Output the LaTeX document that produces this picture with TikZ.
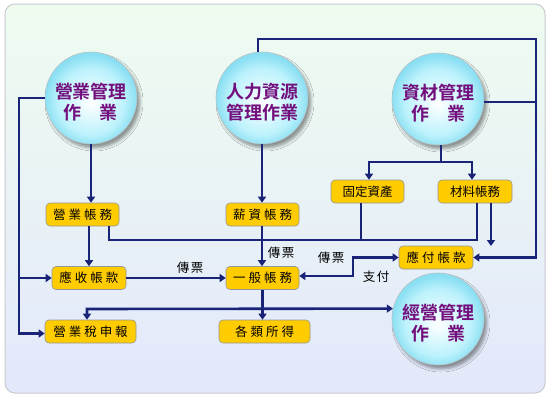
\documentclass[tikz,border=0pt]{standalone}
\usepackage{fontspec}
\newfontfamily\cjk{Noto Sans CJK TC}[BoldFont={Noto Sans CJK TC Bold}]
\usetikzlibrary{arrows.meta,shadows.blur}
\definecolor{navy}{RGB}{25,35,120}
\definecolor{boxfill}{RGB}{255,204,0}
\definecolor{boxline}{RGB}{150,150,150}
\definecolor{purp}{RGB}{115,15,125}
\definecolor{cyanM}{RGB}{188,242,252}
\definecolor{cyanE}{RGB}{138,223,243}
\definecolor{bgtop}{RGB}{238,252,240}
\definecolor{bgbot}{RGB}{227,232,251}
\definecolor{panelline}{RGB}{200,202,208}
\definecolor{circline}{RGB}{180,192,196}
\definecolor{shadowc}{RGB}{40,90,100}
\pgfdeclareradialshading{myball}{\pgfpoint{0bp}{-3bp}}{%
  color(0bp)=(white); color(5bp)=(white!70!cyanM); color(18bp)=(cyanM);
  color(25bp)=(cyanE); color(50bp)=(cyanE)}
\newcommand\lsp{\hspace{3pt}}
\newcommand\ssp{\hspace{1.5pt}}
\begin{document}
\begin{tikzpicture}[x=1pt,y=-1pt,
  line/.style={draw=navy, line width=2.6pt},
  arr/.style={line, -{Triangle[length=6pt,width=8pt]}},
  both/.style={line, {Triangle[length=6pt,width=8pt]}-{Triangle[length=6pt,width=8pt]}},
  circ/.style={circle, minimum size=92pt, inner sep=0pt, draw=circline, line width=0.6pt,
    shading=myball,
    blur shadow={shadow xshift=3pt, shadow yshift=-4pt, shadow blur radius=3pt,
      shadow opacity=40, shadow blur extra rounding=0pt}},
  ctext/.style={font=\cjk\bfseries\fontsize{18}{21}\selectfont, text=purp, align=center, inner sep=0pt},
  box/.style={draw=boxline, line width=0.6pt, fill=boxfill, rounded corners=4pt,
    minimum height=23pt, inner sep=0pt, font=\cjk\fontsize{12.5}{14}\selectfont},
  lab/.style={font=\cjk\fontsize{12.5}{14}\selectfont, inner sep=0pt}]
\useasboundingbox (0,0) rectangle (550,400);
\fill[white] (0,0) rectangle (550,400);
\shade[top color=bgtop, bottom color=bgbot, draw=panelline, line width=1pt, rounded corners=10pt]
  (5,4) rectangle (545,393);

% circles
\node[circ] (c1) at (91,98) {};
\node[ctext] (t1) at ([yshift=-4pt]c1.center) {營業管理\\作　業};
\node[circ] (c2) at (262,98) {};
\node[ctext] (t2) at ([yshift=-4pt]c2.center) {人力資源\\管理作業};
\node[circ] (c3) at (438,99) {};
\node[ctext] (t3) at ([yshift=-4pt]c3.center) {資材管理\\作　業};
\node[circ] (c4) at (438,319) {};
\node[ctext] (t4) at ([yshift=-4pt]c4.center) {經營管理\\作　業};

% boxes
\node[box, minimum width=73pt] (yw) at (82.5,214.5) {營\lsp 業\lsp 帳\lsp 務};
\node[box, minimum width=73pt] (xz) at (262.5,214.5) {薪\lsp 資\lsp 帳\lsp 務};
\node[box, minimum width=74pt] (ys) at (89,278) {應\lsp 收\lsp 帳\lsp 款};
\node[box, minimum width=73pt] (yb) at (262.5,278) {一\lsp 般\lsp 帳\lsp 務};
\node[box, minimum width=91pt] (ts) at (90.5,331.5) {營\lsp 業\lsp 稅\lsp 申\lsp 報};
\node[box, minimum width=91pt] (gl) at (264.5,331.5) {各\lsp 類\lsp 所\lsp 得};
\node[box, minimum width=73pt] (gd) at (367.5,191.5) {固定資產};
\node[box, minimum width=74pt] (cl) at (475,191.5) {材料帳務};
\node[box, minimum width=74pt] (yf) at (436,257.5) {應\lsp 付\lsp 帳\lsp 款};

% helper coordinates
\coordinate (L) at (19,98);
\coordinate (bus) at (109,240);
\coordinate (busE) at (477,240);
\coordinate (TR) at (536,39);
\coordinate (H) at (87,309);
\coordinate (S) at (353,257.5);
\coordinate (sp) at (441,162);
\coordinate (e1) at (491,246);

% connectors
\draw[arr] (c1.west) -- (L) |- ([yshift=-2pt]ts.west);
\draw[arr] (L |- ys.west) -- (ys.west);
\draw[arr] (c1.south) -- (c1.south |- yw.north);
\draw[arr] (yw.south -| ys.north) -- (ys.north);
\draw[line] (yw.south -| bus) -- (bus) -- (busE) -- (cl.south -| busE);
\draw[line] ([xshift=-6.5pt]gd.south) -- ([xshift=-6.5pt]gd.south |- bus);
\draw[arr] (c2.south) -- (c2.south |- xz.north);
\draw[arr] (xz.south -| c2) -- (c2 |- yb.north);
\node[lab] (p1) at (281,253) {傳\ssp 票};
\draw[arr] ([xshift=-4pt]c2.north) |- (TR) |- (yf.east);
\draw[line] ([yshift=-3pt]c3.east) -- ([yshift=-3pt]c3.east -| TR);
\draw[arr] (ys.east) -- (ys.east -| yb.west);
\node[lab] (p2) at (190,268) {傳\ssp 票};
\draw[arr] (yb.south) -- (yb.south |- gl.north);
\draw[both] (H |- ts.north) -- (H) -- (c4.167.4);
\draw[both] ([yshift=2pt]yb.east) -| (S) -- (yf.west);
\node[lab] (p3) at (331,258) {傳\ssp 票};
\node[lab] (p4) at (376,277) {支\ssp 付};
\draw[line] ([xshift=3pt]c3.south) -- (sp);
\draw[arr] (sp) -| ([xshift=1.5pt]gd.north);
\draw[arr] (sp) -| ([xshift=-3pt]cl.north);
\draw[arr] (cl.south -| e1) -- (e1);
\end{tikzpicture}
\end{document}
